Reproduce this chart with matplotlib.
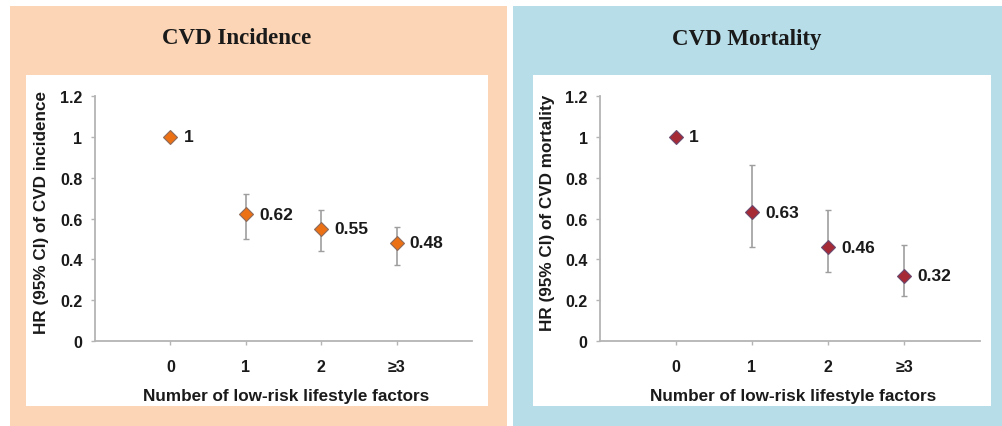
import numpy as np
import matplotlib.pyplot as plt
from matplotlib.patches import Rectangle

# ---------------------------
# Data (hazard ratios with 95% CI)
# ---------------------------
categories = ['0', '1', '2', '≥3']

inc_hr = [1.00, 0.62, 0.55, 0.48]
inc_lo = [1.00, 0.50, 0.44, 0.37]
inc_hi = [1.00, 0.72, 0.64, 0.56]

mort_hr = [1.00, 0.63, 0.46, 0.32]
mort_lo = [1.00, 0.46, 0.34, 0.22]
mort_hi = [1.00, 0.86, 0.64, 0.47]

labels_inc = ['1', '0.62', '0.55', '0.48']
labels_mort = ['1', '0.63', '0.46', '0.32']

W, H = 1003, 427
fig = plt.figure(figsize=(W / 100, H / 100), dpi=100)
fig.patch.set_facecolor('white')


def px_rect(x0, y0, x1, y1, color):
    # rectangle in pixel coords (top-left origin)
    fig.patches.append(Rectangle((x0 / W, 1 - y1 / H), (x1 - x0) / W, (y1 - y0) / H,
                                 transform=fig.transFigure, facecolor=color,
                                 edgecolor='none', zorder=-1))


def px_axes(x0, y0, x1, y1):
    return fig.add_axes([x0 / W, 1 - y1 / H, (x1 - x0) / W, (y1 - y0) / H])


# panel backgrounds
px_rect(10, 7, 507, 427, '#FBD5B5')
px_rect(513, 7, 1003, 427, '#B7DDE8')
px_rect(26, 76, 488, 407, 'white')
px_rect(533, 76, 991, 407, 'white')

panels = [
    dict(ax=(95, 97, 472, 342), title='CVD Incidence', tx=237,
         hr=inc_hr, lo=inc_lo, hi=inc_hi, lab=labels_inc,
         ylabel='HR (95% CI) of CVD incidence', ylx=42,
         face='#EC7014', edge='#8C6A5A'),
    dict(ax=(600, 97, 980, 342), title='CVD Mortality', tx=747,
         hr=mort_hr, lo=mort_lo, hi=mort_hi, lab=labels_mort,
         ylabel='HR (95% CI) of CVD mortality', ylx=548,
         face='#A52A35', edge='#6A4A70'),
]

axis_gray = '#B4B4B4'
x = np.arange(len(categories))

for p in panels:
    ax = px_axes(*p['ax'])
    ax.set_facecolor('none')
    hr = np.array(p['hr'])
    yerr = [hr - np.array(p['lo']), np.array(p['hi']) - hr]
    ax.errorbar(x, hr, yerr=yerr, fmt='none', ecolor='#9E9E9E', elinewidth=1.2,
                capsize=2.5, capthick=1.0, zorder=2)
    ax.plot(x, hr, linestyle='none', marker='D', markersize=7,
            markerfacecolor=p['face'], markeredgecolor=p['edge'],
            markeredgewidth=0.8, zorder=3)
    for xi, yi, t in zip(x, hr, p['lab']):
        ax.annotate(t, (xi, yi), xytext=(9.5, 0), textcoords='offset points',
                    ha='left', va='center', fontsize=12.5, fontweight='bold',
                    family='Liberation Sans', color='#1A1A1A')

    ax.set_xlim(-1, 4)
    ax.set_ylim(0, 1.2)
    ax.set_yticks([0, 0.2, 0.4, 0.6, 0.8, 1.0, 1.2])
    ax.set_yticklabels(['0', '0.2', '0.4', '0.6', '0.8', '1', '1.2'])
    ax.set_xticks(x)
    ax.set_xticklabels(categories)
    for s in ['top', 'right']:
        ax.spines[s].set_visible(False)
    for s in ['left', 'bottom']:
        ax.spines[s].set_color(axis_gray)
        ax.spines[s].set_linewidth(1.3)
    ax.tick_params(axis='both', colors=axis_gray, length=3, width=1.0,
                   labelcolor='#1A1A1A', labelsize=11.5)
    ax.tick_params(axis='x', pad=10)
    ax.tick_params(axis='y', pad=6)
    for lbl in ax.get_xticklabels() + ax.get_yticklabels():
        lbl.set_fontweight('bold')
        lbl.set_family('Liberation Sans')

    x0, y0, x1, y1 = p['ax']
    fig.text(((x0 + x1) / 2 + 3) / W, 1 - 397 / H,
             'Number of low-risk lifestyle factors', ha='center', va='center',
             fontsize=12.3, fontweight='bold', family='Liberation Sans', color='#1A1A1A')
    fig.text(p['ylx'] / W, 1 - 213 / H, p['ylabel'], rotation=90,
             ha='center', va='center', fontsize=12.3, fontweight='bold',
             family='Liberation Sans', color='#1A1A1A')
    fig.text(p['tx'] / W, 1 - 39 / H, p['title'], ha='center', va='center',
             fontsize=16.5, fontweight='bold', family='Liberation Serif', color='#1A1A1A')

fig.savefig('out.png', dpi=100)
